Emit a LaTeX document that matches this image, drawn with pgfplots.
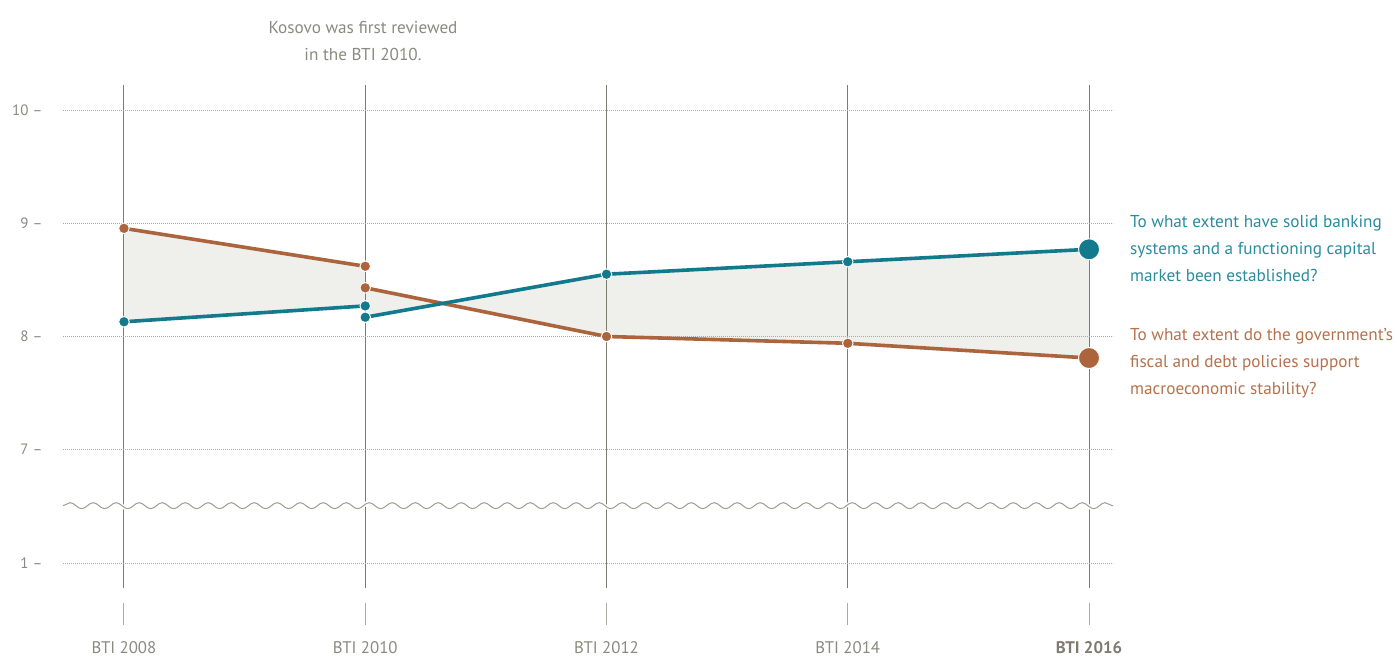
\documentclass[border=0pt]{standalone}
\usepackage{fontspec}
\setmainfont{PT Sans}
\usepackage{pgfplots}
\pgfplotsset{compat=1.18}
\usetikzlibrary{decorations.pathmorphing}
\definecolor{tealc}{HTML}{137A8E}
\definecolor{orangec}{HTML}{AC643D}
\definecolor{teallab}{HTML}{2A8B9E}
\definecolor{orangelab}{HTML}{B5714B}
\definecolor{fillc}{HTML}{EFEFEC}
\definecolor{vline}{HTML}{7E7B70}
\definecolor{gridc}{HTML}{ABABA3}
\definecolor{labc}{HTML}{8A8A80}
\definecolor{wavec}{HTML}{9E9E96}
\begin{document}
\begin{tikzpicture}
\begin{axis}[
 at={(63pt,68pt)}, anchor=south west, scale only axis, width=1050pt, height=503pt,
 xmin=-0.2528, xmax=4.0995, ymin=5.7792, ymax=10.2208,
 set layers, clip=false,
 axis line style={draw=none}, major tick length=0pt,
 xtick={0,1,2,3,4}, xticklabels={BTI 2008,BTI 2010,BTI 2012,BTI 2014,\textbf{\color{vline}BTI 2016}},
 ytick={6,7,8,9,10}, yticklabels={1 –,7 –,8 –,9 –,10 –},
 xmajorgrids, ymajorgrids,
 x grid style={vline, line width=1pt},
 y grid style={gridc, line width=0.9pt, dash pattern=on 1pt off 1pt},
 ticklabel style={font=\fontsize{16.8}{19}\selectfont, text=labc},
 yticklabel style={font=\fontsize{15}{17}\selectfont, anchor=east, xshift=-17pt},
 xticklabel style={anchor=north, yshift=-50pt},
]
% shaded areas between the two series
\addplot[on layer=axis background, draw=none, fill=fillc] coordinates {(0,8.13)(1,8.27)(1,8.62)(0,8.955)};
\addplot[on layer=axis background, draw=none, fill=fillc] coordinates {(1,8.17)(2,8.55)(3,8.66)(4,8.77)(4,7.81)(3,7.94)(2,8.00)(1,8.43)};
% broken-axis wave
\draw[white, line width=4pt, decorate, decoration={snake, amplitude=3pt, segment length=23pt}] (axis cs:-0.2528,6.506) -- (axis cs:4.0995,6.506);
\draw[wavec, line width=1pt, decorate, decoration={snake, amplitude=3pt, segment length=23pt}] (axis cs:-0.2528,6.506) -- (axis cs:4.0995,6.506);
% small tick marks above the labels
\pgfplotsinvokeforeach{0,1,2,3,4}{\draw[gridc, line width=1pt] (axis cs:#1,5.647) -- (axis cs:#1,5.4525);}
% series
\addplot[orangec, line width=3.6pt, mark=*, mark size=5.3pt, mark options={fill=orangec, draw=white, line width=0.9pt}] coordinates {(0,8.955)(1,8.62)};
\addplot[orangec, line width=3.6pt, mark=*, mark size=5.3pt, mark options={fill=orangec, draw=white, line width=0.9pt}] coordinates {(1,8.43)(2,8.00)(3,7.94)};
\addplot[orangec, line width=3.6pt, forget plot] coordinates {(3,7.94)(4,7.81)};
\addplot[tealc, line width=3.6pt, mark=*, mark size=5.3pt, mark options={fill=tealc, draw=white, line width=0.9pt}] coordinates {(0,8.13)(1,8.27)};
\addplot[tealc, line width=3.6pt, mark=*, mark size=5.3pt, mark options={fill=tealc, draw=white, line width=0.9pt}] coordinates {(1,8.17)(2,8.55)(3,8.66)};
\addplot[tealc, line width=3.6pt] coordinates {(3,8.66)(4,8.77)};
\addplot[only marks, mark=*, mark size=10.5pt, mark options={fill=tealc, draw=white, line width=0.9pt}] coordinates {(4,8.77)};
\addplot[only marks, mark=*, mark size=10.5pt, mark options={fill=orangec, draw=white, line width=0.9pt}] coordinates {(4,7.81)};
\end{axis}
% annotations
\begin{scope}[every node/.style={font=\fontsize{17.2}{20}\selectfont, inner sep=0pt}]
\node[anchor=base, text=labc] at (363pt,622pt) {Kosovo was first reviewed};
\node[anchor=base, text=labc] at (363pt,595pt) {in the BTI 2010.};
\node[anchor=base west, text=teallab] at (1130pt,428pt) {To what extent have solid banking};
\node[anchor=base west, text=teallab] at (1130pt,401pt) {systems and a functioning capital};
\node[anchor=base west, text=teallab] at (1130pt,374pt) {market been established?};
\node[anchor=base west, text=orangelab] at (1130pt,315pt) {To what extent do the government’s};
\node[anchor=base west, text=orangelab] at (1130pt,288pt) {fiscal and debt policies support};
\node[anchor=base west, text=orangelab] at (1130pt,261pt) {macroeconomic stability?};
\end{scope}
\path (0,0) rectangle (1397pt,656pt);
\end{tikzpicture}
\end{document}
